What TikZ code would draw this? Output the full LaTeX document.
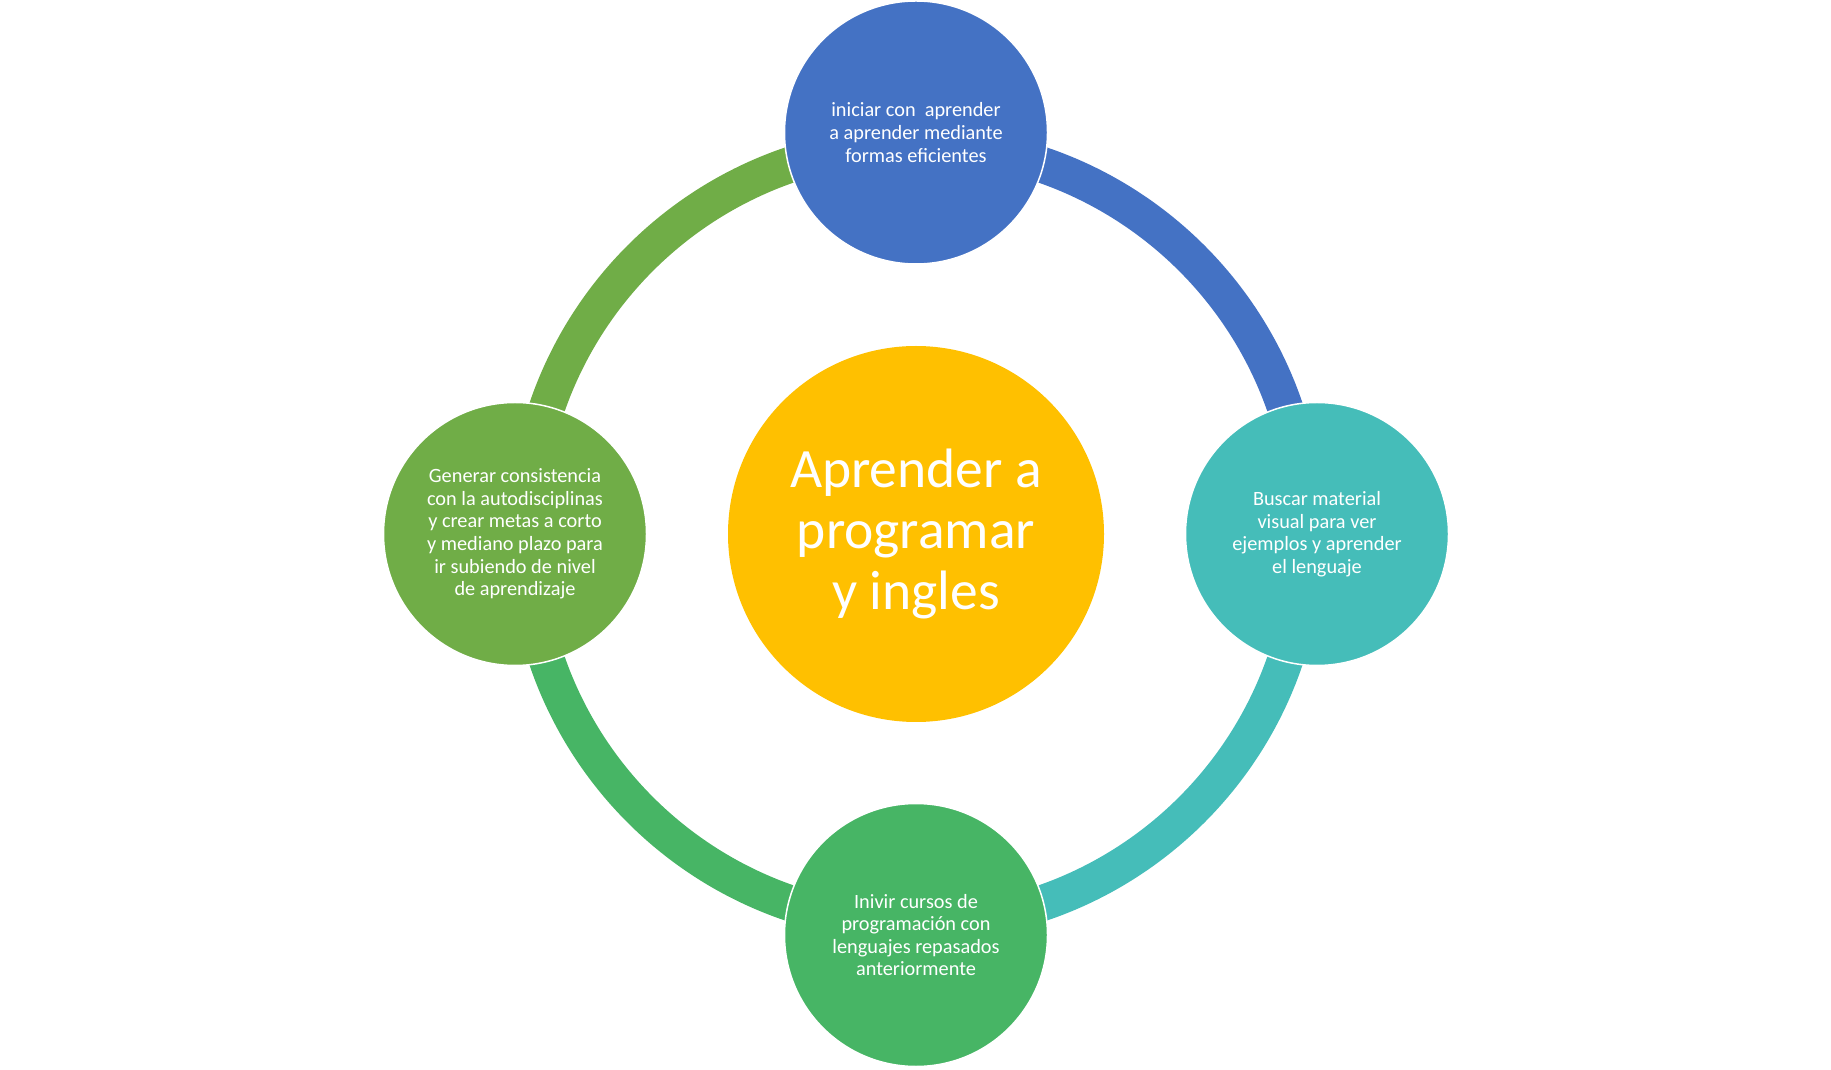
\documentclass[tikz,border=0pt]{standalone}
\usepackage{fontspec}
\setmainfont{Carlito}
\definecolor{cBlue}{HTML}{4472C4}
\definecolor{cTeal}{HTML}{45BDB9}
\definecolor{cGreen}{HTML}{47B565}
\definecolor{cLGreen}{HTML}{70AD47}
\definecolor{cGold}{HTML}{FFC000}
\begin{document}
\begin{tikzpicture}[x=1pt,y=1pt,
  sat/.style={circle, draw=white, line width=1.5pt, inner sep=0pt, minimum size=263pt,
    text=white, align=center, font=\fontsize{20.3}{22.6}\selectfont},
  hub/.style={circle, inner sep=0pt, minimum size=376pt, fill=cGold,
    text=white, align=center, font=\fontsize{55.5}{61}\selectfont},
  ring/.style={line width=36pt}]
\useasboundingbox (0,0) rectangle (1831,1069);
\node[hub] (C) at (916,535) {Aprender a\\programar\\y ingles};
\draw[ring, cBlue]   ([shift={(90:390)}]C.center)  arc[start angle=90,  end angle=0,   radius=390];
\draw[ring, cTeal]   ([shift={(0:390)}]C.center)   arc[start angle=360, end angle=270, radius=390];
\draw[ring, cGreen]  ([shift={(270:390)}]C.center) arc[start angle=270, end angle=180, radius=390];
\draw[ring, cLGreen] ([shift={(180:390)}]C.center) arc[start angle=180, end angle=90,  radius=390];
\node[sat, fill=cBlue] (T) at (916,936.5) {iniciar con\ \ aprender\\a aprender mediante\\formas eficientes};
\node[sat, fill=cTeal] (R) at (1317,535) {Buscar material\\visual para ver\\ejemplos y aprender\\el lenguaje};
\node[sat, fill=cGreen] (B) at (916,134) {Inivir cursos de\\programación con\\lenguajes repasados\\anteriormente};
\node[sat, fill=cLGreen] (L) at (515,535) {Generar consistencia\\con la autodisciplinas\\y crear metas a corto\\y mediano plazo para\\ir subiendo de nivel\\de aprendizaje};
\end{tikzpicture}
\end{document}
